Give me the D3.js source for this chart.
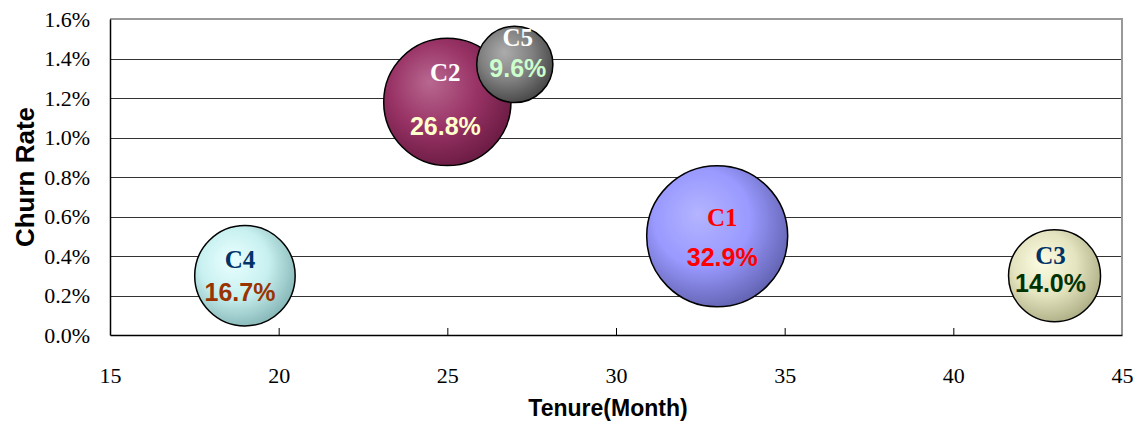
<!DOCTYPE html>
<html>
<head>
<meta charset="utf-8">
<script src="https://cdn.jsdelivr.net/npm/d3@7"></script>
<style>
  html, body { margin: 0; padding: 0; background: #fff; }
  svg { display: block; }
  .axis-title { font-family: "Liberation Sans", Arial, sans-serif; font-weight: bold; fill: #000; }
  .lab-name { font-family: "Liberation Serif", "DejaVu Serif", serif; font-weight: bold; font-size: 25px; }
  .lab-val { font-family: "Liberation Sans", Arial, sans-serif; font-weight: bold; font-size: 25px; }
</style>
</head>
<body>
<svg id="chart" width="1137" height="425"></svg>
<script>
// Customer segments: tenure (x), churn rate (y), share of customers (bubble size)
const segments = ["C1", "C2", "C3", "C4", "C5"];
const tenure = [33, 25, 43, 19, 27];
const churnRate = [0.005, 0.0118, 0.003, 0.003, 0.0137];
const share = [32.9, 26.8, 14.0, 16.7, 9.6];

const xTicks = [15, 20, 25, 30, 35, 40, 45];
const yTicks = [0, 0.002, 0.004, 0.006, 0.008, 0.010, 0.012, 0.014, 0.016];

// look of each bubble: [centre, base, edge], name colour, value colour
const bubbleColors = [
  ["#b4b4ff", "#9999ff", "#6464b4"],
  ["#b86890", "#993366", "#6c1c44"],
  ["#fcfce4", "#e4e4c0", "#b0b088"],
  ["#eaffff", "#c8f0f0", "#88b8b8"],
  ["#acacac", "#808080", "#484848"]
];
const nameColors = ["#ff0000", "#ffffff", "#003366", "#003366", "#ffffff"];
const valueColors = ["#ff0000", "#ffffcc", "#003300", "#993300", "#ccffcc"];
// label nudges relative to the bubble centre: [dx, dyName, dyValue]
const labelNudge = [[5, -19, 21], [-2, -29, 24], [-4, -20, 7], [-5, -16, 16], [3, -27, 4]];

const svg = d3.select("#chart");
const plot = { left: 110, right: 1122, top: 19, bottom: 335 };

const x = d3.scaleLinear().domain([15, 45]).range([plot.left, plot.right]);
const y = d3.scaleLinear().domain([0, 0.016]).range([plot.bottom, plot.top]);
const r = d3.scaleSqrt().domain([0, 32.9]).range([0, 70.5]);

// gradients
const defs = svg.append("defs");
bubbleColors.forEach((c, i) => {
  const g = defs.append("radialGradient")
    .attr("id", "grad" + i)
    .attr("cx", "0.42").attr("cy", "0.4").attr("r", "0.62")
    .attr("fx", "0.36").attr("fy", "0.34");
  g.append("stop").attr("offset", "0%").attr("stop-color", c[0]);
  g.append("stop").attr("offset", "55%").attr("stop-color", c[1]);
  g.append("stop").attr("offset", "100%").attr("stop-color", c[2]);
});

// gridlines
svg.append("g")
  .selectAll("line")
  .data(yTicks.slice(1, -1))
  .join("line")
  .attr("x1", plot.left).attr("x2", plot.right)
  .attr("y1", d => Math.round(y(d)) + 0.5).attr("y2", d => Math.round(y(d)) + 0.5)
  .attr("stroke", "#333").attr("stroke-width", 1);

// plot border (top/right gray)
svg.append("path")
  .attr("d", `M${plot.left},${plot.top}H${plot.right}V${plot.bottom}`)
  .attr("fill", "none").attr("stroke", "#999").attr("stroke-width", 2);

const styleTicks = (g) => g.selectAll(".tick text")
  .style("font-family", '"Liberation Serif", "DejaVu Serif", serif')
  .style("font-size", "22px")
  .attr("fill", "#000");

// y axis
const yAxis = svg.append("g")
  .attr("transform", `translate(${plot.left},0)`)
  .call(d3.axisLeft(y).tickValues(yTicks).tickSize(0).tickPadding(20)
    .tickFormat(d3.format(".1%")))
  .call(styleTicks);
yAxis.select(".domain").attr("stroke", "#000").attr("stroke-width", 1.5);

// x axis (ticks pointing inward)
const xAxis = svg.append("g")
  .attr("transform", `translate(0,${plot.bottom})`)
  .call(d3.axisBottom(x).tickValues(xTicks).tickSizeInner(-7).tickSizeOuter(0).tickPadding(32))
  .call(styleTicks);
xAxis.select(".domain").attr("stroke", "#000").attr("stroke-width", 1.5);
xAxis.selectAll(".tick line").attr("stroke", "#000");
xAxis.selectAll(".tick").filter(d => d === 15 || d === 45).select("line").remove();

// bubbles
const idx = d3.range(segments.length);
svg.append("g")
  .selectAll("circle")
  .data(idx)
  .join("circle")
  .attr("cx", i => x(tenure[i]))
  .attr("cy", i => y(churnRate[i]))
  .attr("r", i => r(share[i]))
  .attr("fill", i => `url(#grad${i})`)
  .attr("stroke", "#000").attr("stroke-width", 1.5);

// labels
const labels = svg.append("g").selectAll("g").data(idx).join("g")
  .attr("transform", i => `translate(${x(tenure[i]) + labelNudge[i][0]},${y(churnRate[i])})`);
labels.append("text")
  .attr("class", "lab-name")
  .attr("text-anchor", "middle").attr("dominant-baseline", "central")
  .attr("y", i => labelNudge[i][1])
  .attr("fill", i => nameColors[i])
  .text(i => segments[i]);
labels.append("text")
  .attr("class", "lab-val")
  .attr("text-anchor", "middle").attr("dominant-baseline", "central")
  .attr("y", i => labelNudge[i][2])
  .attr("fill", i => valueColors[i])
  .text(i => share[i].toFixed(1) + "%");

// axis titles
svg.append("text")
  .attr("class", "axis-title")
  .style("font-size", "26px")
  .attr("text-anchor", "middle")
  .attr("transform", `translate(25,${(plot.top + plot.bottom) / 2}) rotate(-90)`)
  .attr("dominant-baseline", "central")
  .text("Churn Rate");
svg.append("text")
  .attr("class", "axis-title")
  .style("font-size", "23px")
  .attr("text-anchor", "middle")
  .attr("x", 608).attr("y", 416)
  .text("Tenure(Month)");
</script>
</body>
</html>
